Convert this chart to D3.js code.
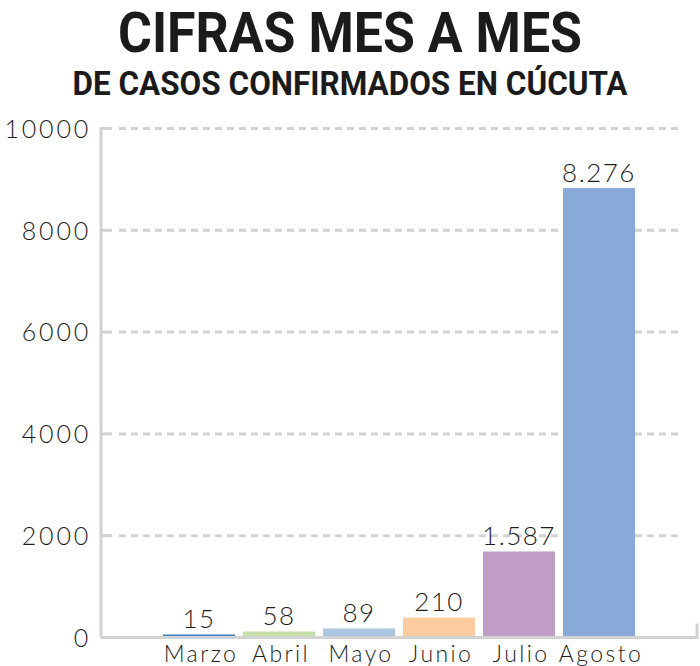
<!DOCTYPE html>
<html><head><meta charset="utf-8">
<script src="https://cdn.jsdelivr.net/npm/d3@7/dist/d3.min.js"></script>
<style>
html,body{margin:0;padding:0;background:#fff;}
svg{display:block;}
</style></head>
<body>
<svg id="c" width="700" height="666"></svg>
<script>
// ---- data ----
const months = ["Marzo","Abril","Mayo","Junio","Julio","Agosto"];
const cases = [15, 58, 89, 210, 1587, 8276];           // labelled values
const barLevels = [60, 118, 177, 393, 1690, 8830];     // bar heights as drawn in the reference
const barColors = ["#3d84c6","#c6dfaa","#a9c5df","#fccb9f","#c09dc7","#88aad8"];
const yTicks = [0, 2000, 4000, 6000, 8000, 10000];
const title = "CIFRAS MES A MES";
const subtitle = "DE CASOS CONFIRMADOS EN CÚCUTA";

const svg = d3.select("#c");
const y = d3.scaleLinear().domain([0, 10000]).range([637.5, 128.5]);
const x = d3.scaleBand().domain(months).range([159, 639]).paddingInner(0.1).paddingOuter(0.05);
const fmt = v => d3.formatLocale({decimal:",", thousands:".", grouping:[3], currency:["",""]}).format(",d")(v);

const grid = "#d2d2d2";
const lightFont = "Lato, 'Open Sans', sans-serif";

// titles
svg.append("text").attr("x", 350).attr("y", 52).attr("text-anchor","middle")
  .attr("font-family","Roboto, 'Noto Sans', sans-serif").attr("font-weight",700)
  .attr("font-size",55).attr("fill","#1b1b1b")
  .attr("textLength",464).attr("lengthAdjust","spacingAndGlyphs").text(title);
svg.append("text").attr("x", 350).attr("y", 95).attr("text-anchor","middle")
  .attr("font-family","Roboto, 'Noto Sans', sans-serif").attr("font-weight",700)
  .attr("font-size",34).attr("fill","#1b1b1b")
  .attr("textLength",555).attr("lengthAdjust","spacingAndGlyphs").text(subtitle);

// gridlines (dashed) except zero
svg.append("g").selectAll("line").data(yTicks.filter(d => d > 0)).join("line")
  .attr("x1", 119).attr("x2", 680).attr("y1", d => y(d)).attr("y2", d => y(d))
  .attr("stroke", grid).attr("stroke-width", 3).attr("stroke-dasharray","7 5");
// tick stubs
svg.append("g").selectAll("line").data(yTicks.filter(d => d > 0)).join("line")
  .attr("x1", 100).attr("x2", 112).attr("y1", d => y(d)).attr("y2", d => y(d))
  .attr("stroke", grid).attr("stroke-width", 3);

// y axis line
svg.append("line").attr("x1",101).attr("x2",101).attr("y1",y(10000)-1.5).attr("y2",y(0))
  .attr("stroke",grid).attr("stroke-width",3);

// y tick labels via d3 axis
const yAxis = d3.axisLeft(y).tickValues(yTicks).tickSize(0).tickPadding(0).tickFormat(d3.format("d"));
const ga = svg.append("g").attr("transform","translate(91,0)").call(yAxis);
ga.select(".domain").remove();
ga.selectAll("text").attr("font-family", lightFont).attr("font-weight",300)
  .attr("font-size",25).attr("fill","#1e1e1e").attr("letter-spacing","2.8px").attr("dy","0.35em");

// bars
svg.append("g").selectAll("rect").data(months).join("rect")
  .attr("x", d => x(d)).attr("width", x.bandwidth())
  .attr("y", (d,i) => y(barLevels[i])).attr("height", (d,i) => y(0) - y(barLevels[i]))
  .attr("fill", (d,i) => barColors[i]);

// baseline
svg.append("path")
  .attr("d", `M101,${y(0)} H697 V${y(0)-14}`)
  .attr("fill","none").attr("stroke",grid).attr("stroke-width",3);

// value labels
svg.append("g").selectAll("text").data(months).join("text")
  .attr("x", d => x(d) + x.bandwidth()/2).attr("y", (d,i) => y(barLevels[i]) - 6)
  .attr("text-anchor","middle").attr("font-family", lightFont).attr("font-weight",300)
  .attr("font-size",26).attr("fill","#1e1e1e").attr("letter-spacing","1.5px")
  .text((d,i) => fmt(cases[i]));

// category labels
svg.append("g").selectAll("text").data(months).join("text")
  .attr("x", d => x(d) + x.bandwidth()/2 + 2).attr("y", 662)
  .attr("text-anchor","middle").attr("font-family", lightFont).attr("font-weight",300)
  .attr("font-size",23).attr("fill","#1e1e1e").attr("letter-spacing","2.4px")
  .text(d => d);
</script>
</body></html>
